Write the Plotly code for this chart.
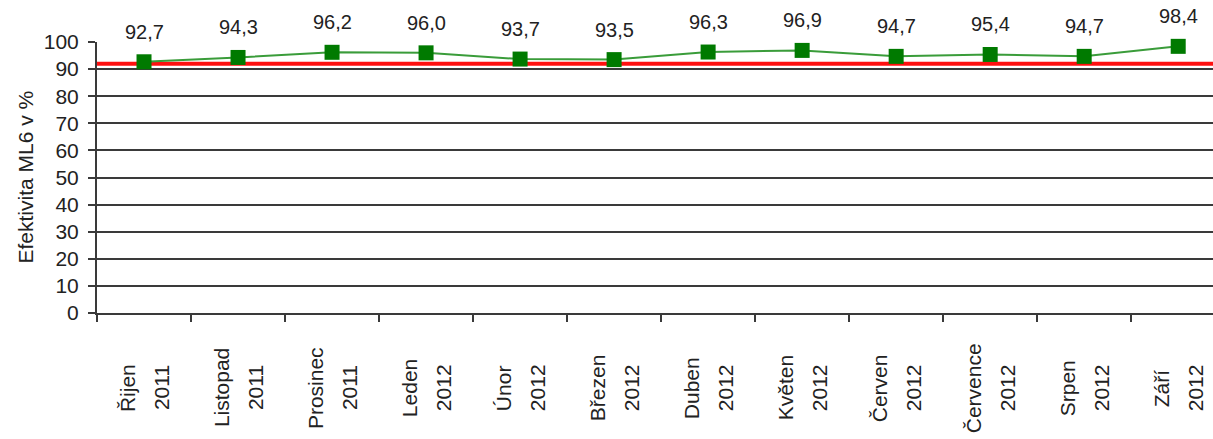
import plotly.graph_objects as go

months = ["Řijen", "Listopad", "Prosinec", "Leden", "Únor", "Březen",
          "Duben", "Květen", "Červen", "Července", "Srpen", "Září"]
years = ["2011", "2011", "2011", "2012", "2012", "2012",
         "2012", "2012", "2012", "2012", "2012", "2012"]
values = [92.7, 94.3, 96.2, 96.0, 93.7, 93.5, 96.3, 96.9, 94.7, 95.4, 94.7, 98.4]
target = 92
y_ticks = [0, 10, 20, 30, 40, 50, 60, 70, 80, 90, 100]
y_title = "Efektivita ML6 v %"

categories = [f"{m} {y}" for m, y in zip(months, years)]
FONT = "Liberation Sans, Arial, sans-serif"
FS = 21

fig = go.Figure()
fig.add_trace(go.Scatter(
    x=categories, y=values, mode="lines+markers",
    line=dict(color="#3a9c3a", width=2),
    marker=dict(symbol="square", size=15, color="#007a00"),
    cliponaxis=False, showlegend=False, hoverinfo="skip",
))

fig.add_shape(type="line", xref="paper", x0=0, x1=1, yref="y", y0=target, y1=target,
              line=dict(color="#ff1010", width=4), layer="below")

annotations = []
for c, v in zip(categories, values):
    annotations.append(dict(x=c, y=v, xref="x", yref="y", text=f"{v:.1f}".replace(".", ","),
                            showarrow=False, yshift=30, yanchor="middle",
                            font=dict(family=FONT, size=FS - 1, color="#222")))
for c, m, yr in zip(categories, months, years):
    annotations.append(dict(x=c, y=-0.277, xref="x", yref="paper", text=m, textangle=-90,
                            showarrow=False, xshift=-17, yanchor="middle", xanchor="center",
                            font=dict(family=FONT, size=FS, color="#222")))
    annotations.append(dict(x=c, y=-0.277, xref="x", yref="paper", text=yr, textangle=-90,
                            showarrow=False, xshift=17, yanchor="middle", xanchor="center",
                            font=dict(family=FONT, size=FS, color="#222")))
annotations.append(dict(x=-0.0645, y=0.5, xref="paper", yref="paper", text=y_title,
                        textangle=-90, showarrow=False, xanchor="center", yanchor="middle",
                        font=dict(family=FONT, size=FS, color="#222")))

fig.update_layout(
    width=1213, height=439,
    margin=dict(l=97, r=0, t=42, b=126),
    paper_bgcolor="white", plot_bgcolor="white",
    annotations=annotations,
    xaxis=dict(type="category", range=[-0.5, 11.37], tickson="boundaries",
               ticks="outside", ticklen=7, tickwidth=2, tickcolor="#3a3a3a",
               showticklabels=False, showgrid=False, showline=True,
               linecolor="#3a3a3a", linewidth=2, zeroline=False),
    yaxis=dict(range=[0, 100], tickvals=y_ticks, ticks="outside", ticklen=7,
               tickwidth=2, tickcolor="#3a3a3a", showgrid=True, gridcolor="#3a3a3a",
               gridwidth=2, showline=True, linecolor="#3a3a3a", linewidth=2,
               zeroline=False, ticklabelstandoff=5,
               tickfont=dict(family=FONT, size=FS, color="#222")),
)

fig.write_html("out.html")
